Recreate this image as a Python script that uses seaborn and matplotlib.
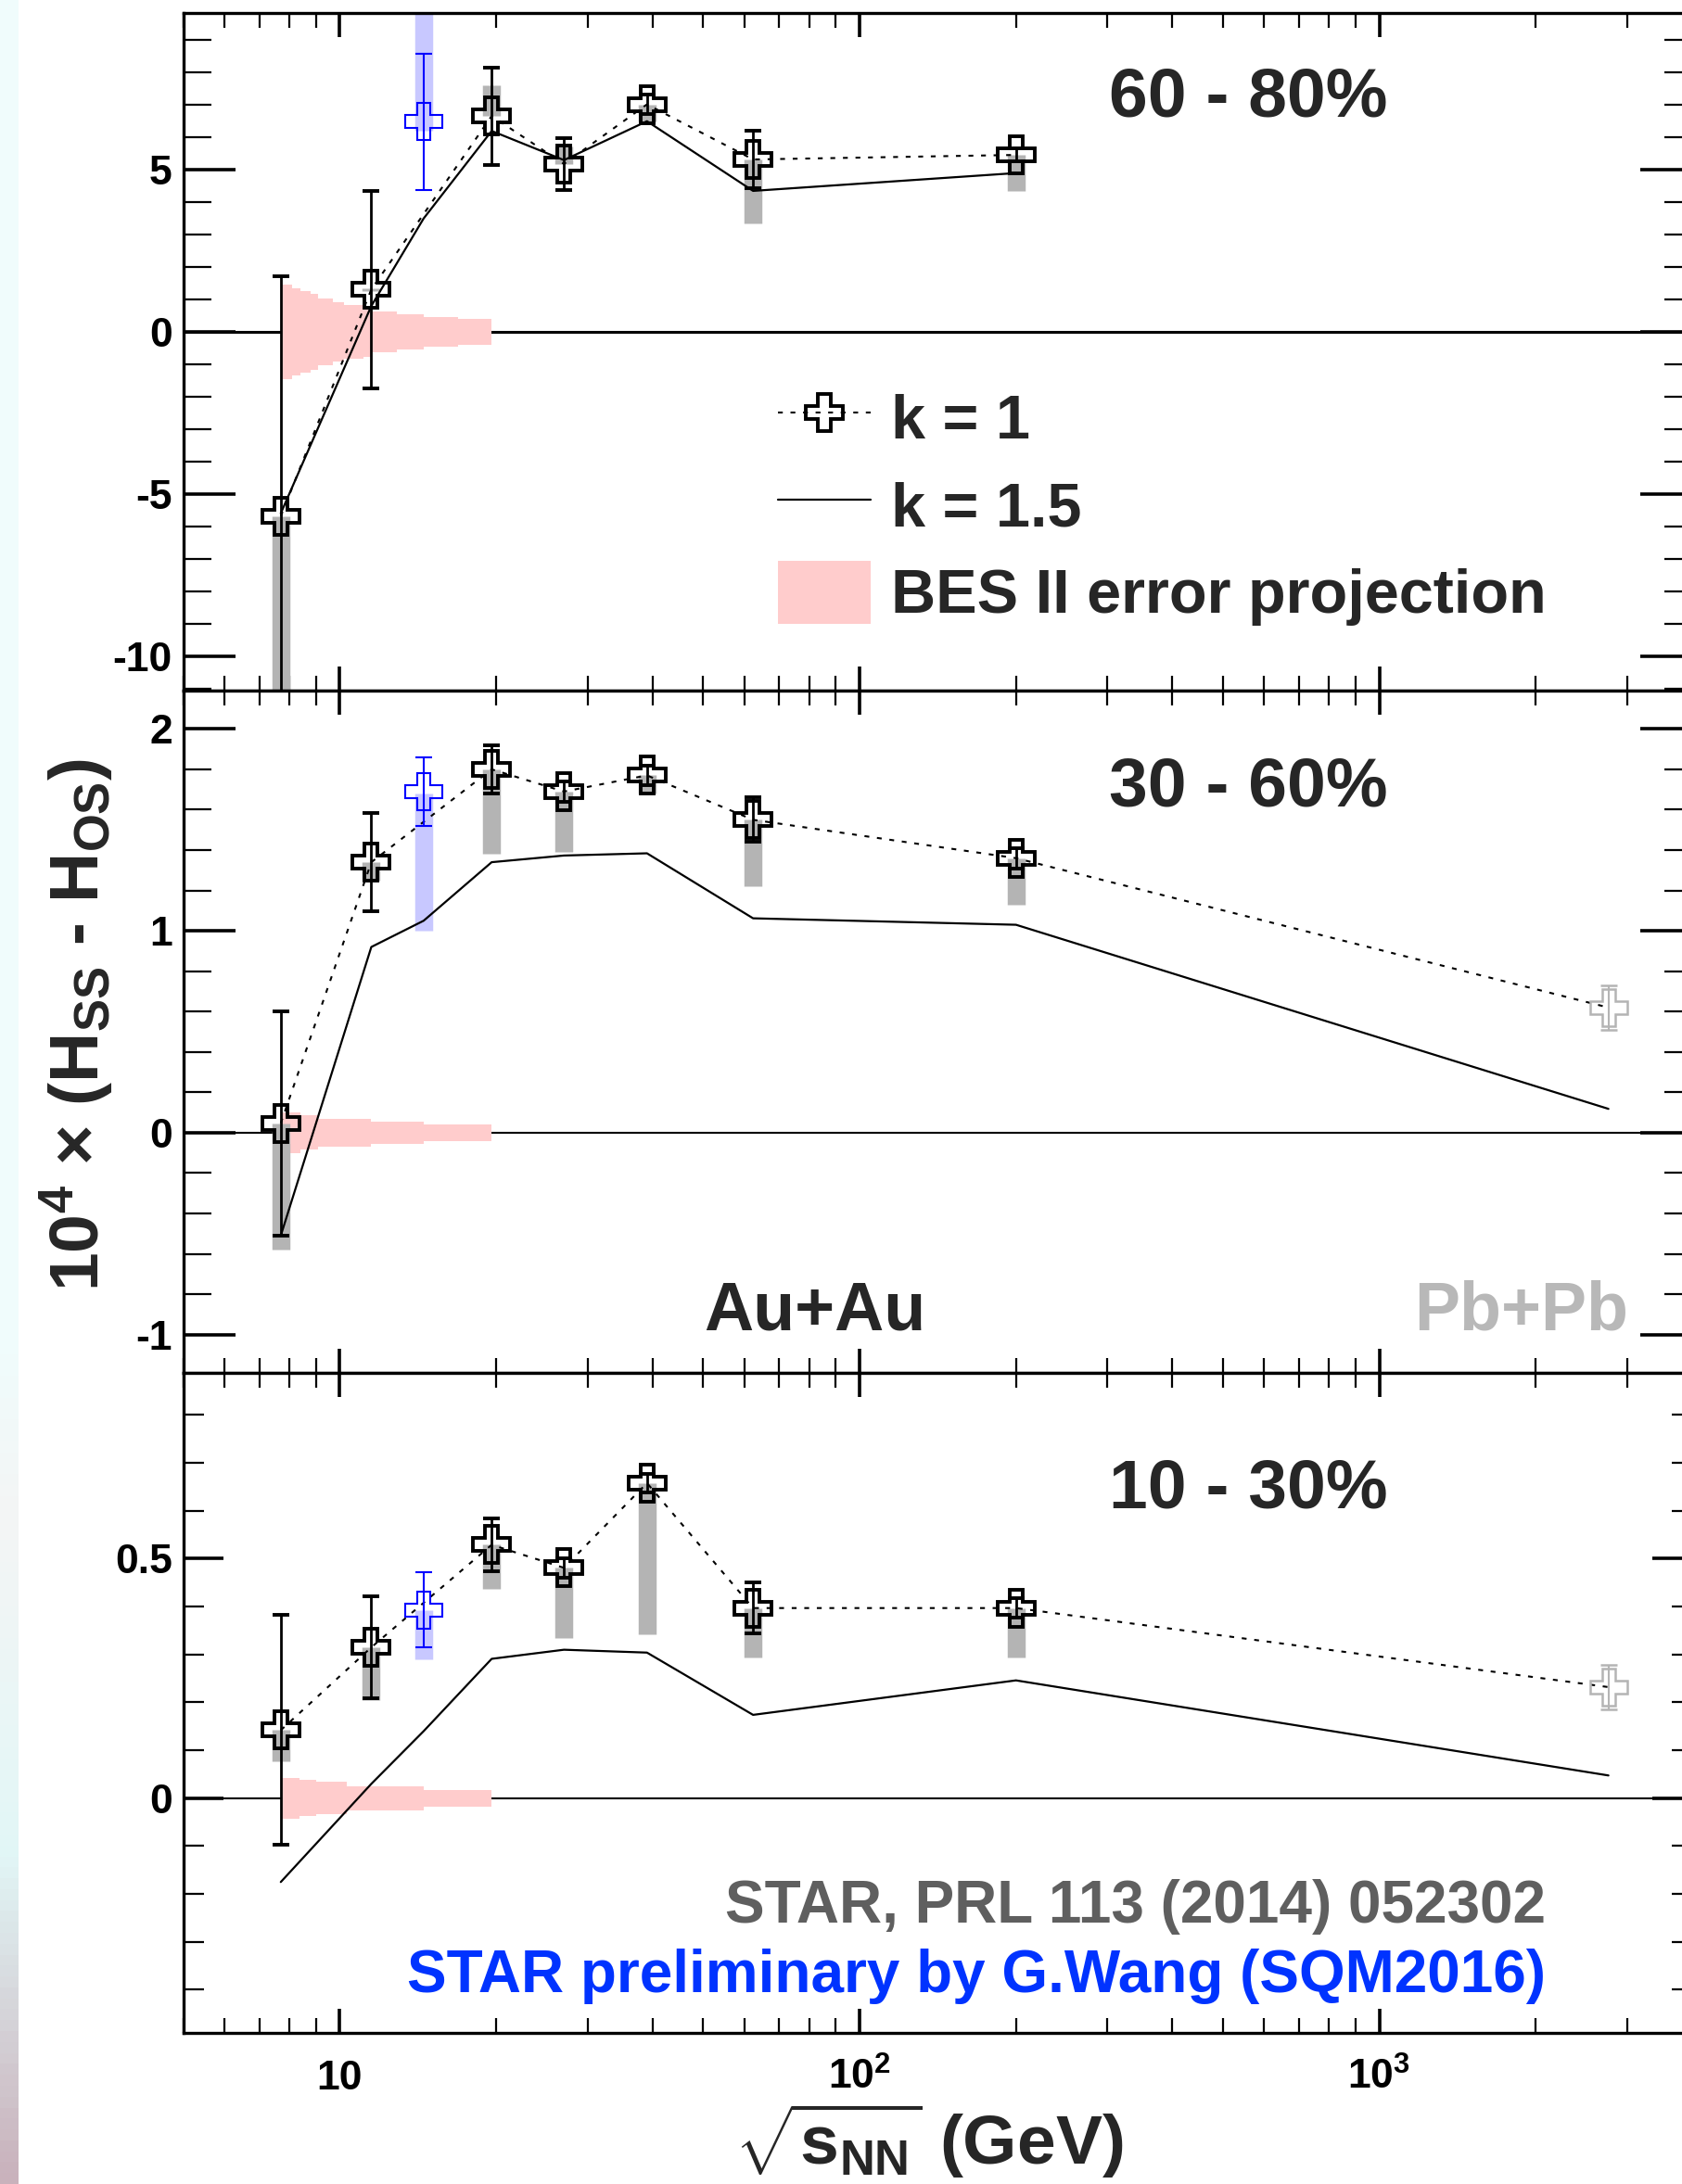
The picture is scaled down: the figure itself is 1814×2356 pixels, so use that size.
import numpy as np
import matplotlib
matplotlib.use("Agg")
import matplotlib.pyplot as plt
from matplotlib.ticker import MultipleLocator, LogLocator, NullFormatter, FixedLocator, FixedFormatter, FuncFormatter
from matplotlib.lines import Line2D
from matplotlib.patches import Patch
from matplotlib.colors import LinearSegmentedColormap
import seaborn as sns

# collision energies (GeV)
energy = [7.7, 11.5, 19.6, 27, 39, 62.4, 200]
energy_prelim = [14.5]
energy_pbpb = [2760]
model_energy = [7.7, 11.5, 14.5, 19.6, 27, 39, 62.4, 200, 2760]

# 60-80%
k1_6080 = [-5.69, 1.31, 6.66, 5.18, 7.02, 5.32, 5.46]
stat_6080 = [7.42, 3.05, 1.5, 0.8, 0.3, 0.9, 0.2]
syslo_6080 = [-14.0, 1.25, 6.66, 5.18, 6.5, 3.36, 4.35]
syshi_6080 = [-5.69, 1.35, 7.6, 5.73, 7.02, 5.32, 5.46]
pre_6080 = [6.48]
pre_err_6080 = [2.1]
pre_band_6080 = [6.2, 11.0]
k15_6080 = [-5.6, 0.8, 3.5, 6.2, 5.3, 6.5, 4.35, 4.9]
bes_x_6080 = [7.7, 8.1, 8.4, 8.8, 9.1, 9.7, 10.2, 11.1, 11.5, 12.9, 14.5, 16.9, 19.6]
bes_h_6080 = [1.45, 1.35, 1.26, 1.16, 1.02, 0.92, 0.83, 0.76, 0.64, 0.54, 0.47, 0.40]

# 30-60%
k1_3060 = [0.047, 1.34, 1.80, 1.69, 1.77, 1.55, 1.36]
stat_3060 = [0.556, 0.245, 0.12, 0.05, 0.05, 0.11, 0.05]
syslo_3060 = [-0.58, 1.25, 1.38, 1.39, 1.68, 1.22, 1.13]
syshi_3060 = [0.047, 1.34, 1.80, 1.69, 1.77, 1.55, 1.36]
pre_3060 = [1.69]
pre_err_3060 = [0.17]
pre_band_3060 = [1.0, 1.68]
pbpb_3060 = [0.62]
pbpb_err_3060 = [0.11]
k15_3060 = [-0.51, 0.92, 1.05, 1.34, 1.373, 1.384, 1.062, 1.03, 0.118]
bes_x_3060 = [7.7, 8.4, 9.1, 11.5, 14.5, 19.6]
bes_h_3060 = [0.10, 0.085, 0.07, 0.056, 0.04]

# 10-30%
k1_1030 = [0.142, 0.315, 0.529, 0.481, 0.658, 0.397, 0.397]
stat_1030 = [0.24, 0.107, 0.055, 0.02, 0.02, 0.053, 0.02]
syslo_1030 = [0.077, 0.205, 0.437, 0.334, 0.343, 0.293, 0.293]
syshi_1030 = [0.142, 0.315, 0.529, 0.481, 0.658, 0.397, 0.397]
pre_1030 = [0.393]
pre_err_1030 = [0.078]
pre_band_1030 = [0.29, 0.393]
pbpb_1030 = [0.232]
pbpb_err_1030 = [0.047]
k15_1030 = [-0.175, 0.03, 0.14, 0.291, 0.31, 0.304, 0.174, 0.246, 0.0475]
bes_x_1030 = [7.7, 8.35, 9.0, 10.3, 14.5, 19.6]
bes_h_1030 = [0.043, 0.038, 0.034, 0.025, 0.018]

x_ticks = [10, 100, 1000]
x_ticklabels = ["10", r"$10^{2}$", r"$10^{3}$"]

sns.set_style("ticks")
plt.rcParams["font.family"] = ["Liberation Sans", "DejaVu Sans"]
plt.rcParams["font.weight"] = "bold"
plt.rcParams["mathtext.fontset"] = "custom"
plt.rcParams["mathtext.rm"] = "Liberation Sans:bold"
plt.rcParams["mathtext.bf"] = "Liberation Sans:bold"
plt.rcParams["mathtext.it"] = "Liberation Sans:bold"
plt.rcParams["mathtext.default"] = "bf"
plt.rcParams["axes.unicode_minus"] = False

W, H = 1814, 2356
fig = plt.figure(figsize=(W / 100, H / 100), dpi=100)
fig.patch.set_facecolor("white")


def px_axes(l, t, r, b):
    return fig.add_axes([l / W, 1 - b / H, (r - l) / W, (b - t) / H])


# faint coloured strip on the left edge of the scan
strip = fig.add_axes([0, 0, 20 / W, 1])
cmap = LinearSegmentedColormap.from_list(
    "strip", [(0, "#f0fcfc"), (0.62, "#f0fcfc"), (0.70, "#f4f5f5"),
              (0.85, "#e2f7f7"), (1.0, "#c9b2bc")])
strip.imshow(np.linspace(0, 1, 200)[:, None], aspect="auto", cmap=cmap)
strip.axis("off")

ax1 = px_axes(197.7, 14, 1825, 745)
ax2 = px_axes(197.7, 745, 1825, 1481)
ax3 = px_axes(197.7, 1481, 1825, 2193)

dash = (0, (2.5, 4))


def draw_panel(ax, k1, stat, syslo, syshi, pre, pre_err, pre_band, k15,
               bes_x, bes_h, ylim, major, minor, ylen, pbpb=None, pbpb_err=None,
               zero_lw=1.5):
    ax.set_xscale("log")
    ax.set_xlim(5, 4000)
    ax.set_ylim(*ylim)

    ax.axhline(0, color="black", lw=zero_lw, zorder=1)
    h = bes_h + [bes_h[-1]]
    ax.fill_between(bes_x, [-v for v in h], h, step="post", color="#ffcccc",
                    lw=0, zorder=1.5)

    ax.vlines(energy, syslo, syshi, colors="#b4b4b4", lw=14, capstyle="butt", zorder=2)
    ax.vlines(energy_prelim, pre_band[0], pre_band[1], colors="#c8c8ff", lw=14,
              capstyle="butt", zorder=2)

    sns.lineplot(x=model_energy[:len(k15)], y=k15, ax=ax, color="black", lw=1.6,
                 legend=False, zorder=2.5)
    xs, ys = list(energy), list(k1)
    if pbpb is not None:
        xs += energy_pbpb
        ys += pbpb
    sns.lineplot(x=xs, y=ys, ax=ax, color="black", lw=1.5, linestyle=dash,
                 legend=False, zorder=2.5)

    ax.errorbar(energy, k1, yerr=stat, fmt="P", ms=29, mfc="none", mec="black",
                mew=2.8, ecolor="black", elinewidth=2, capsize=6.5, capthick=2.2,
                zorder=4)
    ax.errorbar(energy_prelim, pre, yerr=pre_err, fmt="P", ms=29, mfc="none",
                mec="#0000ff", mew=1.5, ecolor="#0000ff", elinewidth=1.5,
                capsize=6.5, capthick=1.8, zorder=4)
    if pbpb is not None:
        ax.errorbar(energy_pbpb, pbpb, yerr=pbpb_err, fmt="P", ms=29, mfc="none",
                    mec="#b4b4b4", mew=1.8, ecolor="#b4b4b4", elinewidth=1.5,
                    capsize=6.5, capthick=1.8, zorder=4)

    ax.xaxis.set_major_locator(FixedLocator(x_ticks))
    ax.xaxis.set_minor_locator(LogLocator(base=10, subs=np.arange(2, 10), numticks=20))
    ax.xaxis.set_minor_formatter(NullFormatter())
    ax.yaxis.set_major_locator(MultipleLocator(major))
    ax.yaxis.set_minor_locator(MultipleLocator(minor))
    ax.yaxis.set_major_formatter(FuncFormatter(lambda v, _: f"{v:g}"))

    ax.tick_params(which="both", direction="in", top=True, right=True, colors="black")
    ax.tick_params(axis="y", which="major", length=ylen[0], width=2.6, labelsize=32, pad=8.5)
    ax.tick_params(axis="y", which="minor", length=ylen[1], width=1.6)
    ax.tick_params(axis="x", which="major", length=19, width=2.6, labelsize=32, pad=44)
    ax.tick_params(axis="x", which="minor", length=11.5, width=1.6)
    for s in ax.spines.values():
        s.set_linewidth(2.4)
        s.set_color("black")
    ax.set_facecolor("white")


draw_panel(ax1, k1_6080, stat_6080, syslo_6080, syshi_6080, pre_6080, pre_err_6080,
           pre_band_6080, k15_6080, bes_x_6080, bes_h_6080, (-11.07, 9.84), 5, 1,
           (40, 21.6), zero_lw=2.2)
draw_panel(ax2, k1_3060, stat_3060, syslo_3060, syshi_3060, pre_3060, pre_err_3060,
           pre_band_3060, k15_3060, bes_x_3060, bes_h_3060, (-1.19, 2.19), 1, 0.2,
           (40, 21.6), pbpb=pbpb_3060, pbpb_err=pbpb_err_3060)
draw_panel(ax3, k1_1030, stat_1030, syslo_1030, syshi_1030, pre_1030, pre_err_1030,
           pre_band_1030, k15_1030, bes_x_1030, bes_h_1030, (-0.49, 0.888), 0.5, 0.1,
           (31, 16), pbpb=pbpb_1030, pbpb_err=pbpb_err_1030)

for ax in (ax1, ax2):
    ax.tick_params(axis="x", labelbottom=False)
ax3.xaxis.set_major_formatter(FixedFormatter(x_ticklabels))
plt.setp(ax3.get_xticklabels(), va="baseline")

# centrality labels
ax1.text(0.7057, 0.848, "60 - 80%", transform=ax1.transAxes, ha="center",
         va="baseline", fontsize=54)
ax2.text(0.7057, 0.8305, "30 - 60%", transform=ax2.transAxes, ha="center",
         va="baseline", fontsize=54)
ax3.text(0.7057, 0.796, "10 - 30%", transform=ax3.transAxes, ha="center",
         va="baseline", fontsize=54)

ax2.text(0.4187, 0.0626, "Au+Au", transform=ax2.transAxes, ha="center",
         va="baseline", fontsize=53)
ax2.text(0.887, 0.0626, "Pb+Pb", transform=ax2.transAxes, ha="center",
         va="baseline", fontsize=53, color="#b8b8b8")

ax3.text(0.903, 0.167, "STAR, PRL 113 (2014) 052302", transform=ax3.transAxes,
         ha="right", va="baseline", fontsize=46, color="#5f5f5f")
ax3.text(0.903, 0.0618, "STAR preliminary by G.Wang (SQM2016)", transform=ax3.transAxes,
         ha="right", va="baseline", fontsize=46, color="#0033ff")

handles = [
    Line2D([], [], color="black", lw=1.5, linestyle=dash, marker="P", ms=29,
           mfc="none", mec="black", mew=2.8),
    Line2D([], [], color="black", lw=1.6),
    Patch(facecolor="#ffcccc", edgecolor="none"),
]
labels = ["k = 1", "k = 1.5", "BES II error projection"]
ax1.legend(handles, labels, loc="upper left", bbox_to_anchor=(0.394, 0.449),
           frameon=False, fontsize=48, handlelength=1.5, handleheight=1.2,
           labelspacing=0.35, handletextpad=0.33, borderpad=0, borderaxespad=0)

fig.text(83 / W, 1 - 1105 / H, r"10$^{4}$ $\times$ (H$_{SS}$ - H$_{OS}$)", rotation=90,
         ha="center", va="center", fontsize=54)
fig.text(1002 / W, 1 - 2335 / H, r"$\sqrt{s_{NN}}$ (GeV)", ha="center",
         va="baseline", fontsize=54)

fig.savefig("out.png", dpi=100, facecolor="white")
